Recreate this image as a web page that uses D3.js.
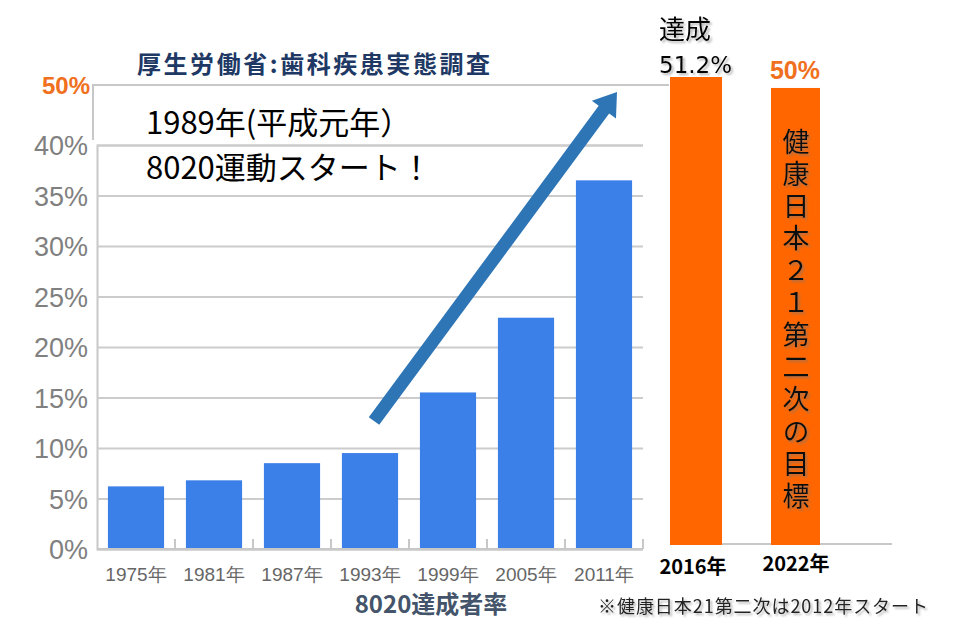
<!DOCTYPE html>
<html>
<head>
<meta charset="utf-8">
<script src="https://cdn.jsdelivr.net/npm/d3@7"></script>
<style>
  body { margin: 0; background: #fff; }
  svg { display: block; }
</style>
</head>
<body>
<div id="chart"></div>
<script>
//// DATA ////
var years = ["1975年", "1981年", "1987年", "1993年", "1999年", "2005年", "2011年"];
var rates = [6.2, 6.8, 8.5, 9.5, 15.5, 22.9, 36.5];
var yTicks = [0, 5, 10, 15, 20, 25, 30, 35, 40];

var goalYears = ["2016年", "2022年"];
var goalRates = [51.2, 50];
var goalText = "健康日本２１第二次の目標";

//// SET UP ////
var svgWidth = 980;
var svgHeight = 637;

var svg = d3.select("#chart")
  .append("svg")
  .attr("width", svgWidth)
  .attr("height", svgHeight);

var defs = svg.append("defs");
defs.append("filter")
  .attr("id", "shadow")
  .attr("x", "-20%").attr("y", "-20%")
  .attr("width", "150%").attr("height", "150%")
  .append("feDropShadow")
  .attr("dx", 2).attr("dy", 2)
  .attr("stdDeviation", 1.2)
  .attr("flood-color", "#777")
  .attr("flood-opacity", 0.55);

var narrow = "'Liberation Sans Narrow', 'Liberation Sans', Arial, sans-serif";
var jp = "'Noto Sans CJK JP', 'Noto Sans', sans-serif";

// left chart scales
var xScale = d3.scaleBand()
  .domain(years)
  .range([97, 643])
  .paddingInner(0.28)
  .paddingOuter(0.14);

var yScale = d3.scaleLinear()
  .domain([0, 40])
  .range([549, 145]);

// right (goal) chart scale
var yGoal = d3.scaleLinear()
  .domain([0, 51.2])
  .range([545, 77]);

//// GRIDLINES + Y AXIS ////
var leftAxis = d3.axisLeft(yScale)
  .tickValues(yTicks)
  .tickSize(-(643 - 97))
  .tickPadding(9)
  .tickFormat(d => d + "%");

var yAxisG = svg.append("g")
  .attr("transform", "translate(97, 0)")
  .call(leftAxis);

yAxisG.select(".domain")
  .attr("stroke", "#c8c8c8")
  .attr("stroke-width", 2);
yAxisG.selectAll(".tick line")
  .attr("stroke", "#cccccc")
  .attr("stroke-width", 2);
yAxisG.selectAll(".tick text")
  .attr("fill", "#808080")
  .attr("font-family", narrow)
  .attr("font-stretch", "condensed")
  .attr("font-size", 27)
  .attr("dy", "0.36em");

// 50% marker line on top
svg.append("line")
  .attr("x1", 92).attr("x2", 669)
  .attr("y1", 85).attr("y2", 85)
  .attr("stroke", "#c8c8c8")
  .attr("stroke-width", 2);
svg.append("line")
  .attr("x1", 93).attr("x2", 93)
  .attr("y1", 85).attr("y2", 140)
  .attr("stroke", "#c8c8c8")
  .attr("stroke-width", 2);

svg.append("text")
  .attr("x", 90)
  .attr("y", 94)
  .attr("text-anchor", "end")
  .attr("fill", "#f07020")
  .attr("font-family", "'Liberation Sans', Arial, sans-serif")
  .attr("font-weight", "bold")
  .attr("font-size", 24)
  .text("50%");

//// BARS ////
svg.selectAll(".bar")
  .data(rates)
  .enter()
  .append("rect")
  .attr("class", "bar")
  .attr("x", (d, i) => xScale(years[i]))
  .attr("y", d => yScale(d))
  .attr("width", xScale.bandwidth())
  .attr("height", d => yScale(0) - yScale(d))
  .attr("fill", "#3b80e8");

//// X AXIS ////
svg.append("line")
  .attr("x1", 97).attr("x2", 643)
  .attr("y1", yScale(0)).attr("y2", yScale(0))
  .attr("stroke", "#c8c8c8")
  .attr("stroke-width", 2);

// boundary ticks between categories
var step = xScale.step();
svg.selectAll(".xtick")
  .data(years)
  .enter()
  .append("line")
  .attr("class", "xtick")
  .attr("x1", d => xScale(d) + xScale.bandwidth() + (step - xScale.bandwidth()) / 2)
  .attr("x2", d => xScale(d) + xScale.bandwidth() + (step - xScale.bandwidth()) / 2)
  .attr("y1", yScale(0) - 10)
  .attr("y2", yScale(0))
  .attr("stroke", "#c8c8c8")
  .attr("stroke-width", 2);

var bottomAxis = d3.axisBottom(xScale).tickSize(0).tickPadding(0);
var xAxisG = svg.append("g")
  .attr("transform", `translate(0, ${yScale(0)})`)
  .call(bottomAxis);
xAxisG.select(".domain").remove();
xAxisG.selectAll(".tick text")
  .attr("y", 32)
  .attr("dy", 0)
  .attr("fill", "#666")
  .attr("font-family", narrow)
  .attr("font-stretch", "condensed")
  .attr("font-size", 19);

svg.append("text")
  .attr("x", 431)
  .attr("y", 613)
  .attr("text-anchor", "middle")
  .attr("fill", "#44546a")
  .attr("font-family", jp)
  .attr("font-weight", "bold")
  .attr("font-size", 24)
  .text("8020達成者率");

//// TITLE ////
svg.append("text")
  .attr("x", 137)
  .attr("y", 73)
  .attr("fill", "#203864")
  .attr("font-family", jp)
  .attr("font-weight", "bold")
  .attr("font-size", 24)
  .attr("textLength", 353)
  .text("厚生労働省:歯科疾患実態調査");

//// ANNOTATION ////
var note = svg.append("text")
  .attr("x", 146)
  .attr("y", 134)
  .attr("fill", "#000")
  .attr("font-family", jp)
  .attr("font-size", 31);
note.append("tspan")
  .attr("x", 146)
  .text("1989年(平成元年）");
note.append("tspan")
  .attr("x", 146)
  .attr("dy", 45)
  .text("8020運動スタート！");

// trend arrow
var tail = [374, 421], tip = [617, 92];
var dx = tip[0] - tail[0], dy = tip[1] - tail[1];
var len = Math.sqrt(dx * dx + dy * dy);
var ux = dx / len, uy = dy / len;
var nx = -uy, ny = ux;
var shaftW = 6.5, headW = 15, headL = 22;
var bx = tip[0] - ux * headL, by = tip[1] - uy * headL;
var arrowPts = [
  [tail[0] + nx * shaftW, tail[1] + ny * shaftW],
  [bx + nx * shaftW, by + ny * shaftW],
  [bx + nx * headW, by + ny * headW],
  tip,
  [bx - nx * headW, by - ny * headW],
  [bx - nx * shaftW, by - ny * shaftW],
  [tail[0] - nx * shaftW, tail[1] - ny * shaftW]
];
svg.append("polygon")
  .attr("points", arrowPts.map(p => p.join(",")).join(" "))
  .attr("fill", "#2e75b6");

//// GOAL CHART ////
svg.append("line")
  .attr("x1", 670).attr("x2", 892)
  .attr("y1", 544).attr("y2", 544)
  .attr("stroke", "#c8c8c8")
  .attr("stroke-width", 2);

var goalX = [670, 771];
svg.selectAll(".goalbar")
  .data(goalRates)
  .enter()
  .append("rect")
  .attr("class", "goalbar")
  .attr("x", (d, i) => goalX[i])
  .attr("y", d => yGoal(d))
  .attr("width", (d, i) => i === 0 ? 52 : 49)
  .attr("height", d => yGoal(0) - yGoal(d))
  .attr("fill", "#ff6600");

svg.selectAll(".goallabel")
  .data(goalYears)
  .enter()
  .append("text")
  .attr("class", "goallabel")
  .attr("x", (d, i) => i === 0 ? 693 : 796)
  .attr("y", (d, i) => i === 0 ? 574 : 571)
  .attr("text-anchor", "middle")
  .attr("fill", "#000")
  .attr("font-family", jp)
  .attr("font-weight", "bold")
  .attr("font-size", 20)
  .text(d => d);

// achieved label
svg.append("text")
  .attr("x", 659)
  .attr("y", 39)
  .attr("fill", "#000")
  .attr("font-family", jp)
  .attr("font-size", 26)
  .attr("filter", "url(#shadow)")
  .text("達成");
svg.append("text")
  .attr("x", 659)
  .attr("y", 73)
  .attr("fill", "#000")
  .attr("font-family", "'DejaVu Sans', sans-serif")
  .attr("font-size", 23)
  .attr("filter", "url(#shadow)")
  .text(goalRates[0] + "%");

// target label
svg.append("text")
  .attr("x", 795)
  .attr("y", 79)
  .attr("text-anchor", "middle")
  .attr("fill", "#f07020")
  .attr("font-family", "'Liberation Sans', Arial, sans-serif")
  .attr("font-weight", "bold")
  .attr("font-size", 25)
  .text(goalRates[1] + "%");

// vertical text inside target bar
svg.append("text")
  .attr("x", 796)
  .attr("y", 128)
  .attr("fill", "#111")
  .attr("font-family", jp)
  .attr("font-size", 27)
  .attr("letter-spacing", 5.2)
  .style("writing-mode", "vertical-rl")
  .style("text-orientation", "upright")
  .attr("filter", "url(#shadow)")
  .text(goalText);

//// FOOTNOTE ////
svg.append("text")
  .attr("x", 598)
  .attr("y", 613)
  .attr("fill", "#222")
  .attr("font-family", jp)
  .attr("font-size", 18)
  .attr("textLength", 330)
  .attr("filter", "url(#shadow)")
  .text("※健康日本21第二次は2012年スタート");
</script>
</body>
</html>
